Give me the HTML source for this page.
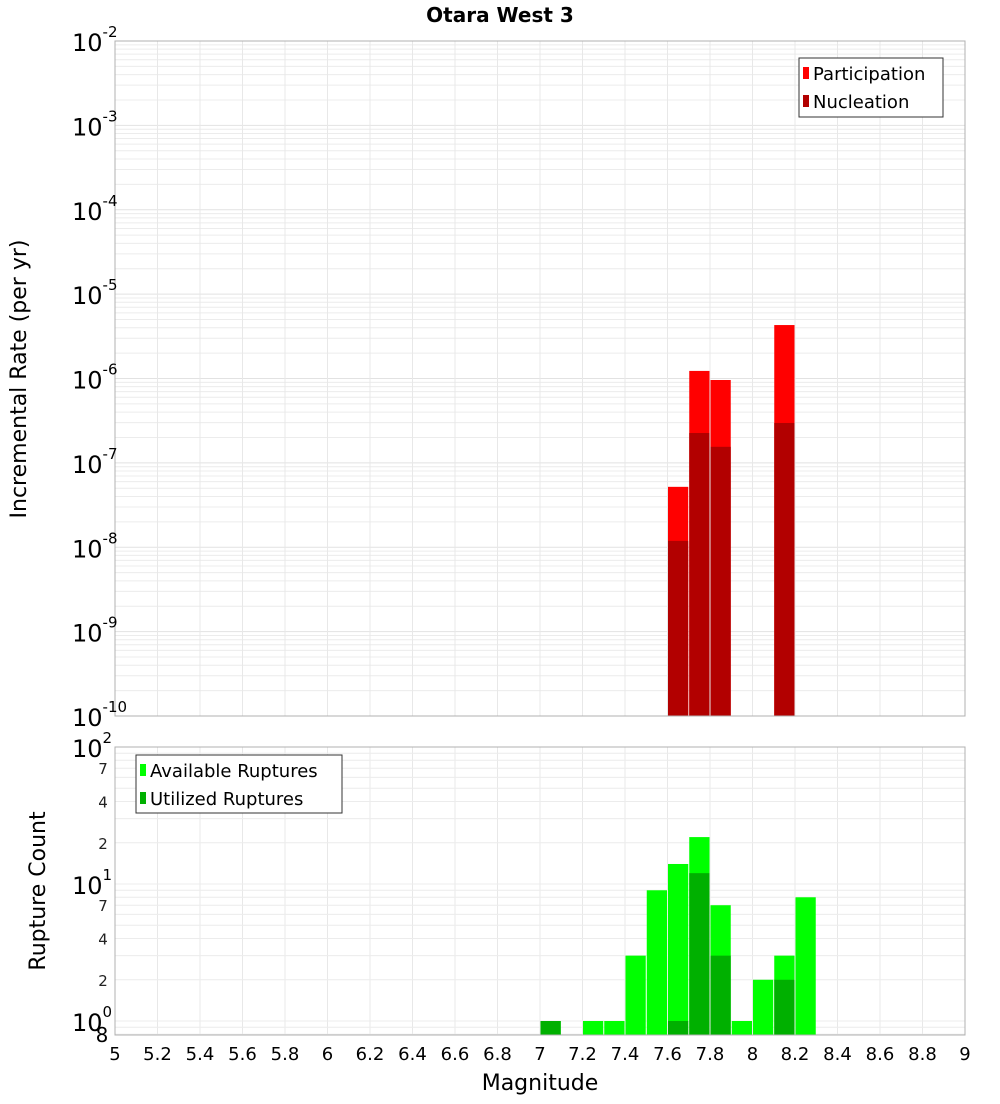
<!DOCTYPE html>
<html><head><meta charset="utf-8"><style>
body{margin:0;background:#fff;font-family:"DejaVu Sans","Liberation Sans",sans-serif}
svg text{font-family:"DejaVu Sans","Liberation Sans",sans-serif}
</style></head><body>
<svg id="c" width="1000" height="1100" xmlns="http://www.w3.org/2000/svg">
<text x="500" y="22" text-anchor="middle" font-size="20" font-weight="bold">Otara West 3</text>
<g id="topg"></g>
<g id="botg"></g>
<text transform="translate(26,379) rotate(-90)" text-anchor="middle" font-size="22">Incremental Rate (per yr)</text>
<text transform="translate(45,891) rotate(-90)" text-anchor="middle" font-size="22">Rupture Count</text>
<text x="540" y="1090" text-anchor="middle" font-size="22">Magnitude</text>
</svg>
<script>
const rateMags=[7.6,7.7,7.8,8.1];
const participation=[5.2e-8,1.23e-6,9.6e-7,4.3e-6];
const nucleation=[1.19e-8,2.26e-7,1.55e-7,2.97e-7];
const countMags=[7.0,7.2,7.3,7.4,7.5,7.6,7.7,7.8,7.9,8.0,8.1,8.2];
const available=[1,1,1,3,9,14,22,7,1,2,3,8];
const utilized=[1,0,0,0,0,1,12,3,0,0,2,0];
const xTicks=["5","5.2","5.4","5.6","5.8","6","6.2","6.4","6.6","6.8","7","7.2","7.4","7.6","7.8","8","8.2","8.4","8.6","8.8","9"];

const NS="http://www.w3.org/2000/svg";
const X0=115,X1=965,xMin=5,xMax=9;
const xs=m=>X0+(m-xMin)/(xMax-xMin)*(X1-X0);
const T0=41,T1=716,tMin=-10,tMax=-2;
const yt=v=>T0+(tMax-Math.log10(v))/(tMax-tMin)*(T1-T0);
const B0=747,B1=1035,dec=137;
const yb=v=>B0+(2-Math.log10(v))*dec;
function el(p,tag,a,txt){const e=document.createElementNS(NS,tag);for(const k in a)e.setAttribute(k,a[k]);if(txt!=null)e.textContent=txt;p.appendChild(e);return e;}
const topG=document.getElementById('topg'),botG=document.getElementById('botg');

for(let d=tMin;d<tMax;d++)for(let k=1;k<10;k++){const y=yt(k*Math.pow(10,d));if(y<T0||y>T1)continue;
 const l=el(topG,'line',{x1:X0,x2:X1,y1:y,y2:y,stroke:k==1?'#e2e2e2':'#ececec','stroke-width':1});
 
 }
for(let i=0;i<xTicks.length;i++){const x=xs(+xTicks[i]);
 const l=el(topG,'line',{x1:x,x2:x,y1:T0,y2:T1,stroke:'#e8e8e8'});
 
 
 const l2=el(botG,'line',{x1:x,x2:x,y1:B0,y2:B1,stroke:'#e8e8e8'});
 
 }
const bw=xs(5.1)-xs(5);
for(let i=0;i<rateMags.length;i++){const x=xs(rateMags[i]);
 const p=el(topG,'rect',{x:x+0.5,y:yt(participation[i]),width:bw-1,height:T1-yt(participation[i]),fill:'#ff0000'});
 
 
 const n=el(topG,'rect',{x:x+0.5,y:yt(nucleation[i]),width:bw-1,height:T1-yt(nucleation[i]),fill:'#b20000'});
 
 }
el(topG,'rect',{x:X0,y:T0,width:X1-X0,height:T1-T0,fill:'none',stroke:'#b0b0b0'});
for(let d=tMin;d<=tMax;d++){const y=yt(Math.pow(10,d));
 const t=el(topG,'text',{x:72,y:y+10,'font-size':24});
 
 
 el(t,'tspan',{},'10');el(t,'tspan',{dy:-14,'font-size':15},String(d));}
const lg=el(topG,'g',{});


el(lg,'rect',{x:799,y:58,width:144,height:59,fill:'#fff',stroke:'#333'});
el(lg,'rect',{x:803,y:67,width:6,height:12,fill:'#ff0000'});el(lg,'text',{x:813,y:80,'font-size':18},'Participation');
el(lg,'rect',{x:803,y:95,width:6,height:12,fill:'#b20000'});el(lg,'text',{x:813,y:108,'font-size':18},'Nucleation');

for(let d=-1;d<2;d++)for(let k=1;k<10;k++){const y=yb(k*Math.pow(10,d));if(y<B0||y>B1)continue;
 const l=el(botG,'line',{x1:X0,x2:X1,y1:y,y2:y,stroke:'#ececec'});
 
 }
for(let i=0;i<countMags.length;i++){const x=xs(countMags[i]);
 const a=el(botG,'rect',{x:x+0.5,y:yb(available[i]),width:bw-1,height:B1-yb(available[i]),fill:'#00ff00'});
 
 
 if(utilized[i]>0){const u=el(botG,'rect',{x:x+0.5,y:yb(utilized[i]),width:bw-1,height:B1-yb(utilized[i]),fill:'#00b000'});
 
 }}
el(botG,'rect',{x:X0,y:B0,width:X1-X0,height:B1-B0,fill:'none',stroke:'#b0b0b0'});
[[100,'10','2'],[10,'10','1'],[1,'10','0']].forEach(v=>{const y=yb(v[0]);
 const t=el(botG,'text',{x:72,y:y+10,'font-size':24});
 
 
 el(t,'tspan',{},v[1]);el(t,'tspan',{dy:-14,'font-size':15},v[2]);});
[70,40,20,7,4,2].forEach(v=>{const y=yb(v);const t=el(botG,'text',{x:103,y:y+6,'font-size':15,'text-anchor':'middle',fill:'#222'},String(v).charAt(0));
 
 });
{const t=el(botG,'text',{x:102,y:1042,'font-size':20,'text-anchor':'middle'},'8');
 
 }
for(let i=0;i<xTicks.length;i++){const t=el(botG,'text',{x:xs(+xTicks[i]),y:1060,'font-size':18,'text-anchor':'middle'},xTicks[i]);
 
 }
const bl=el(botG,'g',{});


el(bl,'rect',{x:136,y:755,width:206,height:58,fill:'#fff',stroke:'#333'});
el(bl,'rect',{x:140,y:764,width:6,height:12,fill:'#00ff00'});el(bl,'text',{x:150,y:777,'font-size':18},'Available Ruptures');
el(bl,'rect',{x:140,y:792,width:6,height:12,fill:'#00b000'});el(bl,'text',{x:150,y:805,'font-size':18},'Utilized Ruptures');
</script>
</body></html>
